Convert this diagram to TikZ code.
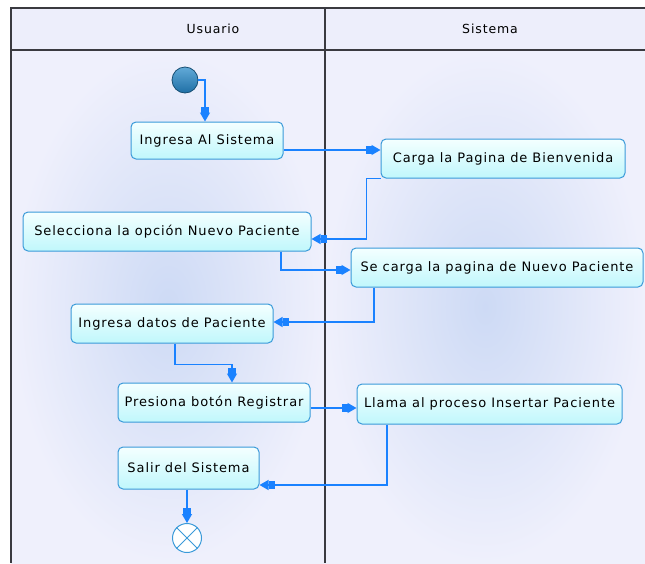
\documentclass[tikz,border=0pt]{standalone}
\usepackage{fontspec}
\setmainfont{DejaVu Sans}[LetterSpace=7]
\usetikzlibrary{arrows.meta,positioning,calc}
\definecolor{lanelight}{HTML}{EFF0FC}
\definecolor{lanedeep}{HTML}{CDDAF5}
\definecolor{headfill}{HTML}{EDEEFB}
\definecolor{actborder}{HTML}{3A9AD9}
\definecolor{acttop}{HTML}{F4FFFF}
\definecolor{actbottom}{HTML}{C0F7FC}
\definecolor{flowblue}{HTML}{1A82FF}
\definecolor{starttop}{HTML}{62AAD8}
\definecolor{startbottom}{HTML}{1F6FA5}
\definecolor{framegray}{HTML}{3A3A40}
\tikzset{
  act/.style={draw=actborder, line width=1pt, top color=acttop, bottom color=actbottom,
    rounded corners=5pt, align=center, inner sep=0pt, minimum height=39pt,
    font=\fontsize{13}{15}\selectfont},
  flow/.style={-{Rectangle[length=6pt,width=8pt]Triangle[length=9pt,width=10pt]},
    line width=1.2pt, flowblue},
  lanehead/.style={font=\fontsize{12.5}{15}\selectfont},
  startdot/.style={circle, draw=startbottom!70!black, line width=0.8pt,
    top color=starttop, bottom color=startbottom, minimum size=26pt, inner sep=0pt},
  enddot/.style={circle, draw=actborder, line width=1pt, fill=white,
    minimum size=29pt, inner sep=0pt},
  lane/.style={draw=framegray, line width=1.2pt}
}
\begin{document}
\begin{tikzpicture}[x=1pt,y=-1pt]
  \useasboundingbox (0,0) rectangle (645,563);
  % swimlanes
  \shade[inner color=lanedeep, outer color=lanelight] (11,50) rectangle (325,563);
  \shade[inner color=lanedeep, outer color=lanelight] (325,50) rectangle (645,563);
  \fill[headfill] (11,8) rectangle (645,50);
  \draw[lane] (11,563) -- (11,8) -- (645,8);
  \draw[lane] (11,50) -- (645,50);
  \draw[lane] (325,8) -- (325,563);
  \node[lanehead] (usuario) at (213,29) {Usuario};
  \node[lanehead] (sistema) at (490,29) {Sistema};

  % activities
  \node[startdot] (start) at (185,80) {};
  \node[act, minimum width=152pt, minimum height=37pt] (ingresa) at (207,140.5) {Ingresa Al Sistema};
  \node[act, minimum width=244pt] (carga) at (503,158.5) {Carga la Pagina de Bienvenida};
  \node[act, minimum width=288pt] (selecciona) at (167,231.5) {Selecciona la opción Nuevo Paciente};
  \node[act, minimum width=292pt] (secarga) at (497,267.5) {Se carga la pagina de Nuevo Paciente};
  \node[act, minimum width=202pt] (datos) at (172,323.5) {Ingresa datos de Paciente};
  \node[act, minimum width=192pt] (presiona) at (214,402.5) {Presiona botón Registrar};
  \node[act, minimum width=265pt, minimum height=40pt] (llama) at (489.5,404) {Llama al proceso Insertar Paciente};
  \node[act, minimum width=141pt, minimum height=42pt] (salir) at (188.5,468) {Salir del Sistema};
  \node[enddot] (fin) at (187,538) {};
  \draw[actborder, line width=0.8pt] (fin.north west) -- (fin.south east)
    (fin.north east) -- (fin.south west);

  % transitions
  \draw[flow] (start.east) -| ([xshift=-2pt]ingresa.north);
  \draw[flow] (ingresa.east |- 0,150) -- (carga.west |- 0,150);
  \draw[flow] (carga.south west) -- ++(-14,0) |- (selecciona.east |- 0,239);
  \draw[flow] (selecciona.south -| 281,0) |- (secarga.west |- 0,270);
  \draw[flow] (secarga.south -| 374,0) |- (datos.east |- 0,322);
  \draw[flow] (datos.south -| 175,0) -- ++(0,21) -| (presiona.north -| 232,0);
  \draw[flow] (presiona.east |- 0,408) -- (llama.west |- 0,408);
  \draw[flow] (llama.south -| 387,0) |- (salir.east |- 0,485);
  \draw[flow] (salir.south -| 187,0) -- (fin.north);
\end{tikzpicture}
\end{document}
